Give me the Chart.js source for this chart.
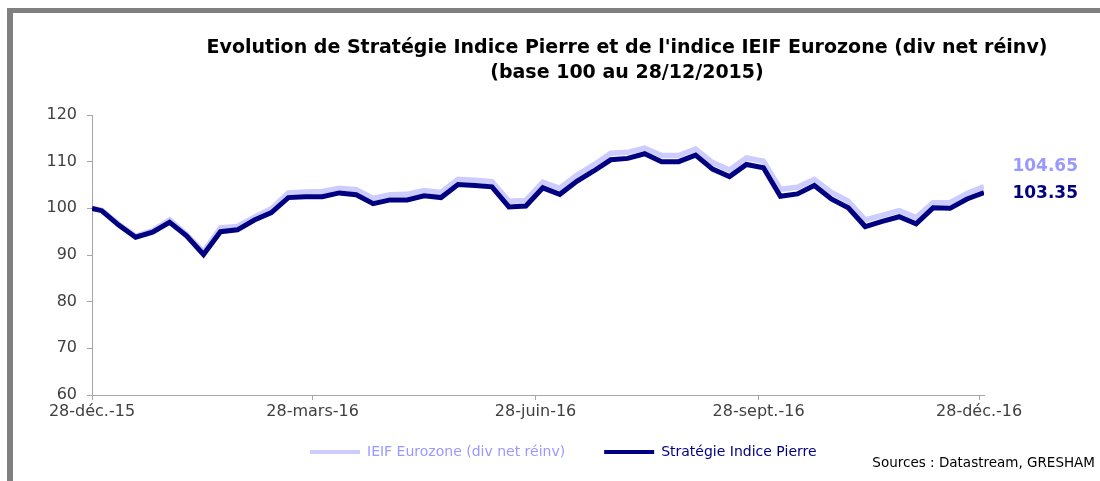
<!DOCTYPE html>
<html>
<head>
<meta charset="utf-8">
<title>Stratégie Indice Pierre / IEIF Eurozone</title>
<script src="https://cdn.jsdelivr.net/npm/chart.js@4.4.1/dist/chart.umd.min.js"></script>
<style>
  html, body { margin: 0; padding: 0; background: #fff; }
</style>
</head>
<body>
<canvas id="chart" width="1100" height="481"></canvas>
<script>
// days since 28/12/2015 (base date, then weekly closes)
const days = [0, 4, 11, 18, 25, 32, 39, 46, 53, 60, 67, 74, 81, 88, 95, 102, 109, 116,
  123, 130, 137, 144, 151, 158, 165, 172, 179, 186, 193, 200, 207, 214, 221, 228, 235,
  242, 249, 256, 263, 270, 277, 284, 291, 298, 305, 312, 319, 326, 333, 340, 347, 354,
  361, 368];

const ieif = [100, 99.6, 96.6, 94.0, 95.2, 97.5, 94.4, 90.6, 95.8, 96.1, 98.1, 99.9,
  103.3, 103.5, 103.6, 104.3, 104.0, 102.1, 102.9, 103.0, 103.8, 103.4, 106.2, 106.0,
  105.7, 101.5, 101.7, 105.6, 104.3, 107.1, 109.3, 111.8, 112.0, 112.9, 111.3, 111.3,
  112.7, 109.8, 108.2, 110.8, 110.1, 104.1, 104.5, 106.2, 103.4, 101.5, 97.5, 98.5,
  99.5, 98.0, 101.2, 101.2, 103.2, 104.65];

const strategie = [100, 99.5, 96.4, 93.8, 94.9, 97.0, 94.1, 90.1, 95.0, 95.4, 97.5, 99.1,
  102.3, 102.5, 102.5, 103.3, 102.9, 101.0, 101.8, 101.8, 102.7, 102.3, 105.1, 104.9,
  104.6, 100.3, 100.5, 104.4, 103.0, 105.8, 108.0, 110.4, 110.7, 111.7, 110.0, 110.0,
  111.4, 108.4, 106.8, 109.4, 108.7, 102.6, 103.1, 104.9, 102.0, 100.1, 96.1, 97.2,
  98.2, 96.7, 100.1, 100.0, 102.0, 103.35];

const tickDays = [0, 91, 183, 275, 366];
const tickLabels = ['28-déc.-15', '28-mars-16', '28-juin-16', '28-sept.-16', '28-déc.-16'];

const titleLines = [
  "Evolution de Stratégie Indice Pierre et de l'indice IEIF Eurozone (div net réinv)",
  '(base 100 au 28/12/2015)'
];
const sourceText = 'Sources : Datastream, GRESHAM';

const FONT = "'DejaVu Sans', sans-serif";
const axisGray = '#a6a6a6';

// title, frame, end values, legend and sources
const decor = {
  id: 'decor',
  afterDraw(chart) {
    const ctx = chart.ctx;
    ctx.save();

    // grey frame (top and left)
    ctx.fillStyle = '#808080';
    ctx.fillRect(7, 8, 1093, 5);
    ctx.fillRect(7, 8, 6, 473);

    // title
    ctx.fillStyle = '#000';
    ctx.font = 'bold 19px ' + FONT;
    ctx.textAlign = 'center';
    ctx.textBaseline = 'middle';
    ctx.fillText(titleLines[0], 627, 48);
    ctx.fillText(titleLines[1], 627, 73);

    // last values on the right
    const ds = chart.data.datasets;
    const valueY = [167, 194];
    ctx.font = 'bold 17px ' + FONT;
    ctx.textAlign = 'right';
    ds.forEach((d, i) => {
      const last = d.data[d.data.length - 1].y;
      ctx.fillStyle = d.textColor;
      ctx.fillText(last.toFixed(2), 1078, valueY[i]);
    });

    // legend
    ctx.font = '14px ' + FONT;
    ctx.textAlign = 'left';
    let x = 310;
    const ly = 452;
    ds.forEach(d => {
      ctx.strokeStyle = d.borderColor;
      ctx.lineWidth = 4;
      ctx.beginPath();
      ctx.moveTo(x, ly);
      ctx.lineTo(x + 50, ly);
      ctx.stroke();
      ctx.fillStyle = d.textColor;
      ctx.fillText(d.label, x + 57, ly);
      x += 57 + ctx.measureText(d.label).width + 39;
    });

    // sources
    ctx.font = '13.5px ' + FONT;
    ctx.fillStyle = '#000';
    ctx.textAlign = 'right';
    ctx.fillText(sourceText, 1095, 463);
    ctx.restore();
  }
};

const ctx = document.getElementById('chart').getContext('2d');

new Chart(ctx, {
  type: 'line',
  data: {
    datasets: [
      {
        label: 'IEIF Eurozone (div net réinv)',
        data: days.map((d, i) => ({ x: d, y: ieif[i] })),
        borderColor: '#ccccff',
        textColor: '#9999ff',
        borderWidth: 5.5,
        pointRadius: 0,
        tension: 0,
        order: 1
      },
      {
        label: 'Stratégie Indice Pierre',
        data: days.map((d, i) => ({ x: d, y: strategie[i] })),
        borderColor: '#000080',
        textColor: '#000080',
        borderWidth: 5,
        pointRadius: 0,
        tension: 0,
        order: 0
      }
    ]
  },
  options: {
    responsive: false,
    animation: false,
    layout: { padding: { left: 10, right: 116, top: 115, bottom: 46 } },
    plugins: {
      legend: { display: false },
      tooltip: { enabled: false }
    },
    scales: {
      x: {
        type: 'linear',
        min: 0,
        max: 368,
        afterBuildTicks: (scale) => { scale.ticks = tickDays.map(v => ({ value: v })); },
        afterFit: (scale) => { scale.height = 40; },
        ticks: {
          callback: (v, i) => tickLabels[i],
          color: '#404040',
          font: { family: FONT, size: 16 },
          padding: 2,
          maxRotation: 0,
          autoSkip: false
        },
        grid: { drawOnChartArea: false, tickLength: 5, color: axisGray },
        border: { color: axisGray }
      },
      y: {
        min: 60,
        max: 120,
        afterFit: (scale) => { scale.width = 82; },
        ticks: {
          stepSize: 10,
          color: '#404040',
          font: { family: FONT, size: 16 },
          padding: 10
        },
        grid: { drawOnChartArea: false, tickLength: 5, color: axisGray },
        border: { color: axisGray }
      }
    }
  },
  plugins: [decor]
});
</script>
</body>
</html>
